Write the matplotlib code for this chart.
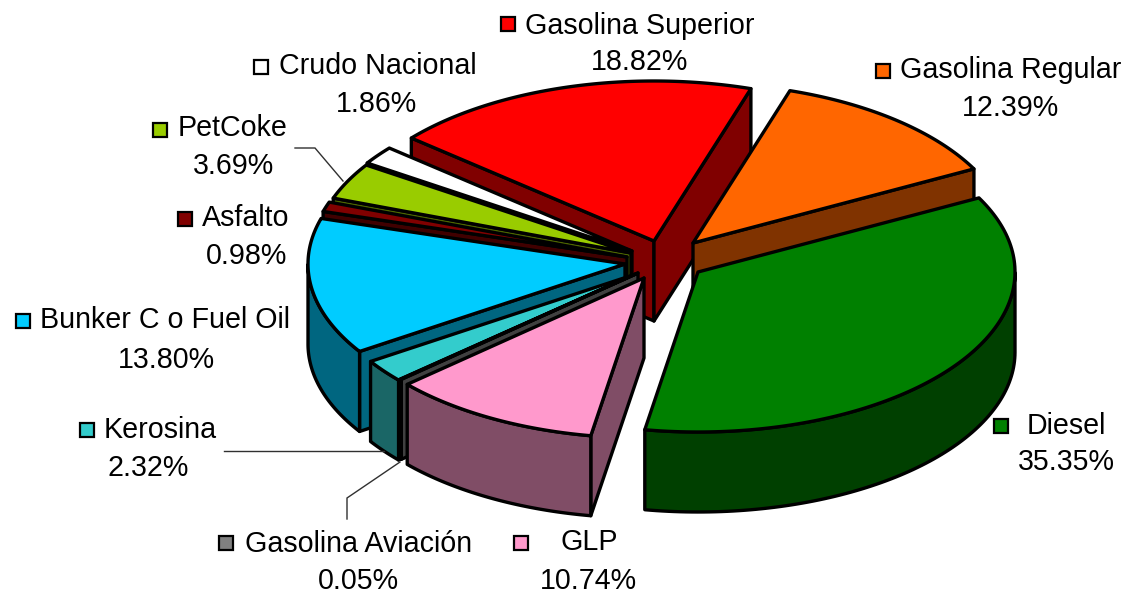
#!/usr/bin/env python

# Exploded 3D pie, drawn by hand since matplotlib has no such thing.
# The axes are in image pixels, y down.

import numpy as np
import matplotlib
matplotlib.use('Agg')
import matplotlib.pyplot as plt
from matplotlib.patches import Polygon

plt.rcParams['font.family'] = ['Liberation Sans', 'DejaVu Sans']

# Clockwise, starting at Gasolina Regular
names = ['Gasolina Regular', 'Diesel', 'GLP', 'Gasolina Aviación', 'Kerosina',
         'Bunker C o Fuel Oil', 'Asfalto', 'PetCoke', 'Crudo Nacional',
         'Gasolina Superior']
shares = [12.39, 35.35, 10.74, 0.05, 2.32, 13.80, 0.98, 3.69, 1.86, 18.82]

top_colors = ['#FF6600', '#008000', '#FF99CC', '#808080', '#33CCCC',
              '#00CCFF', '#800000', '#99CC00', '#FFFFFF', '#FF0000']
side_colors = ['#803300', '#004000', '#804D66', '#404040', '#1A6666',
               '#006680', '#400000', '#4D6600', '#808080', '#800000']

# Where each exploded slice has its tip, pixels
tips = [(693, 243), (698, 272), (644, 278), (638, 273), (636, 274),
        (625, 264), (627, 257), (631, 253), (632, 251), (654, 241)]

# Key centre, name start, name y, percent centre x, percent y
label_pos = [(883, 71, 900, 70.5, 1010, 108.5),
             (1001, 426, 1027, 426.5, 1066, 462.5),
             (521, 543, 560, 542.5, 588, 581),
             (226, 543, 245, 543.5, 358, 581),
             (87, 430, 104, 429.5, 148, 467.5),
             (23, 321, 40, 320.5, 166, 359.5),
             (185, 219, 202, 218.5, 247, 255.5),
             (160, 130, 178, 128.5, 234, 166.5),
             (261, 67, 279, 66.5, 376, 104.5),
             (508, 24, 525, 25.5, 640, 62.5)]

leaders = [[(295, 148), (315, 148), (343, 181)],
           [(224, 451), (384, 451)],
           [(347, 519), (347, 498), (400, 462)]]

start_angle = 17.8   # degrees clockwise from the top
rx, ry = 317.0, 160.0
depth = 80.0
edge = 2.4

fig = plt.figure(figsize=(11.24, 5.91), dpi=100, facecolor='white')
ax = fig.add_axes([0, 0, 1, 1])
ax.set_xlim(0, 1124)
ax.set_ylim(591, 0)
ax.set_axis_off()


def rim_point(tip, t):
    return (tip[0] + rx*np.sin(t), tip[1] - ry*np.cos(t))


def lowered(pts):
    return [(x, y + depth) for x, y in pts]


def face(pts, color):
    ax.add_patch(Polygon(pts, closed=True, facecolor=color, edgecolor='black',
                         linewidth=edge, joinstyle='round'))


edges = start_angle + 3.6*np.concatenate([[0], np.cumsum(shares)])
edges = np.radians(edges)
mids = (edges[:-1] + edges[1:])/2

# Back to front
for i in np.argsort(-np.cos(mids)):
    t0, t1 = edges[i], edges[i+1]
    tip = tips[i]
    side = side_colors[i]

    # Cut faces, only when they look towards the viewer
    if np.sin(t0) < 0:
        cut = [tip, rim_point(tip, t0)]
        face(cut + lowered(cut)[::-1], side)
    if np.sin(t1) > 0:
        cut = [tip, rim_point(tip, t1)]
        face(cut + lowered(cut)[::-1], side)

    # Outer wall: the part of the rim on the near half
    ts = np.linspace(t0, t1, 120)
    ts = ts[np.cos(ts) < 0]
    if len(ts) > 1:
        arc = [rim_point(tip, t) for t in ts]
        face(arc + lowered(arc)[::-1], side)

    ts = np.linspace(t0, t1, 120)
    face([tip] + [rim_point(tip, t) for t in ts], top_colors[i])

for line in leaders:
    xs, ys = zip(*line)
    ax.plot(xs, ys, color='#303030', linewidth=1.0, solid_joinstyle='miter')

for i, name in enumerate(names):
    kx, ky, nx, ny, px, py = label_pos[i]
    ax.plot([kx], [ky], marker='s', markersize=10, markerfacecolor=top_colors[i],
            markeredgecolor='black', markeredgewidth=1.6, linestyle='none')
    ax.text(nx, ny, name, fontsize=20.6, ha='left', va='center', color='black')
    ax.text(px, py, '%.2f%%' % shares[i], fontsize=20.6, ha='center', va='center',
            color='black')

fig.savefig('out.png', dpi=100, facecolor='white')
